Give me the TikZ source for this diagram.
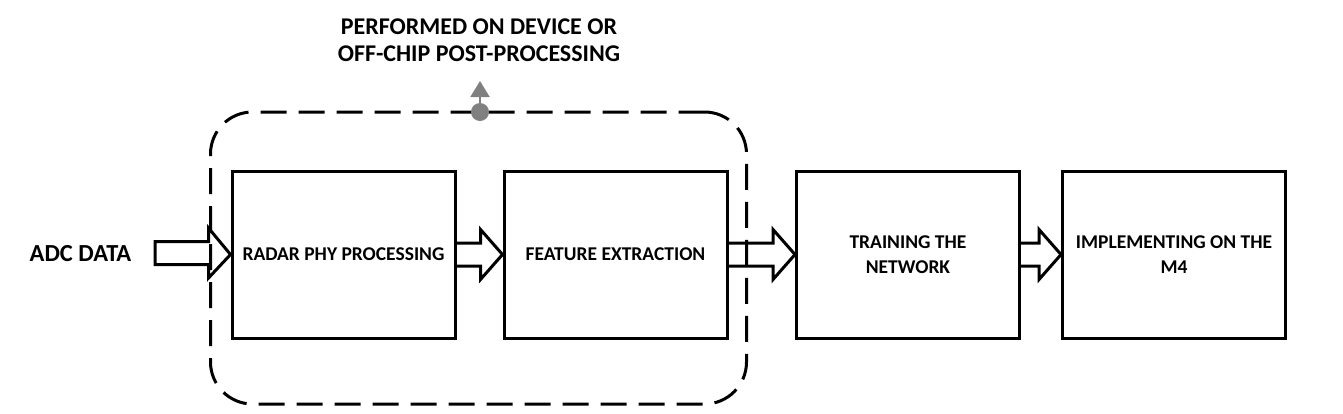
\documentclass[tikz,border=0pt]{standalone}
\usepackage{fontspec}
\setmainfont{Carlito}
\usetikzlibrary{calc,arrows.meta}
\definecolor{dotgray}{RGB}{128,128,128}
\newcommand\myblkarrow[3]{%
  \draw[blk] let \p1=(#1), \p2=(#2) in
    (\x1,\y1+11.5pt) -- (\x2-22pt,\y1+11.5pt) -- (\x2-22pt,\y1+25pt) -- (\x2,\y2)
    -- (\x2-22pt,\y1-25pt) -- (\x2-22pt,\y1-11.5pt) -- (\x1,\y1-11.5pt) #3;}
\begin{document}
\begin{tikzpicture}[x=1pt,y=-1pt,
  box/.style={draw, line width=3pt, minimum width=223pt, minimum height=167pt,
    inner sep=0pt, align=center, font=\fontsize{19.5}{25}\selectfont\bfseries},
  blk/.style={draw, line width=3pt, line join=miter},
  lbl/.style={align=center, font=\fontsize{24}{27}\selectfont\bfseries},
]
\useasboundingbox (0,0) rectangle (1343,413);
\node[box] (b1) at (343.5,254.5) {RADAR PHY PROCESSING};
\node[box] (b2) at (615.5,254.5) {FEATURE EXTRACTION};
\node[box] (b3) at (908,254.5) {TRAINING THE\\NETWORK};
\node[box] (b4) at (1174,254.5) {IMPLEMENTING ON THE\\M4};
\node[draw, line width=3pt, dash pattern=on 26pt off 12pt, rounded corners=42pt,
  minimum width=536pt, minimum height=292pt] (grp) at (478.5,258) {};
\node[lbl, font=\fontsize{24.5}{28}\selectfont\bfseries] (adc) at (80.5,254) {ADC DATA};
\coordinate (adcs) at (155,253);
\myblkarrow{adcs}{b1.west}{-- cycle}
\myblkarrow{b1.east}{b2.west}{}
\myblkarrow{b2.east}{b3.west}{}
\myblkarrow{b3.east}{b4.west}{}
\node[circle, fill=dotgray, minimum size=18pt, inner sep=0pt] (dot) at (480,112) {};
\coordinate (tip) at (480,81);
\draw[dotgray, line width=2pt, -{Triangle[width=19pt,length=16pt]}] (dot.north) -- (tip);
\node[lbl] (title) at (479,40) {PERFORMED ON DEVICE OR\\OFF-CHIP POST-PROCESSING};
\end{tikzpicture}
\end{document}
